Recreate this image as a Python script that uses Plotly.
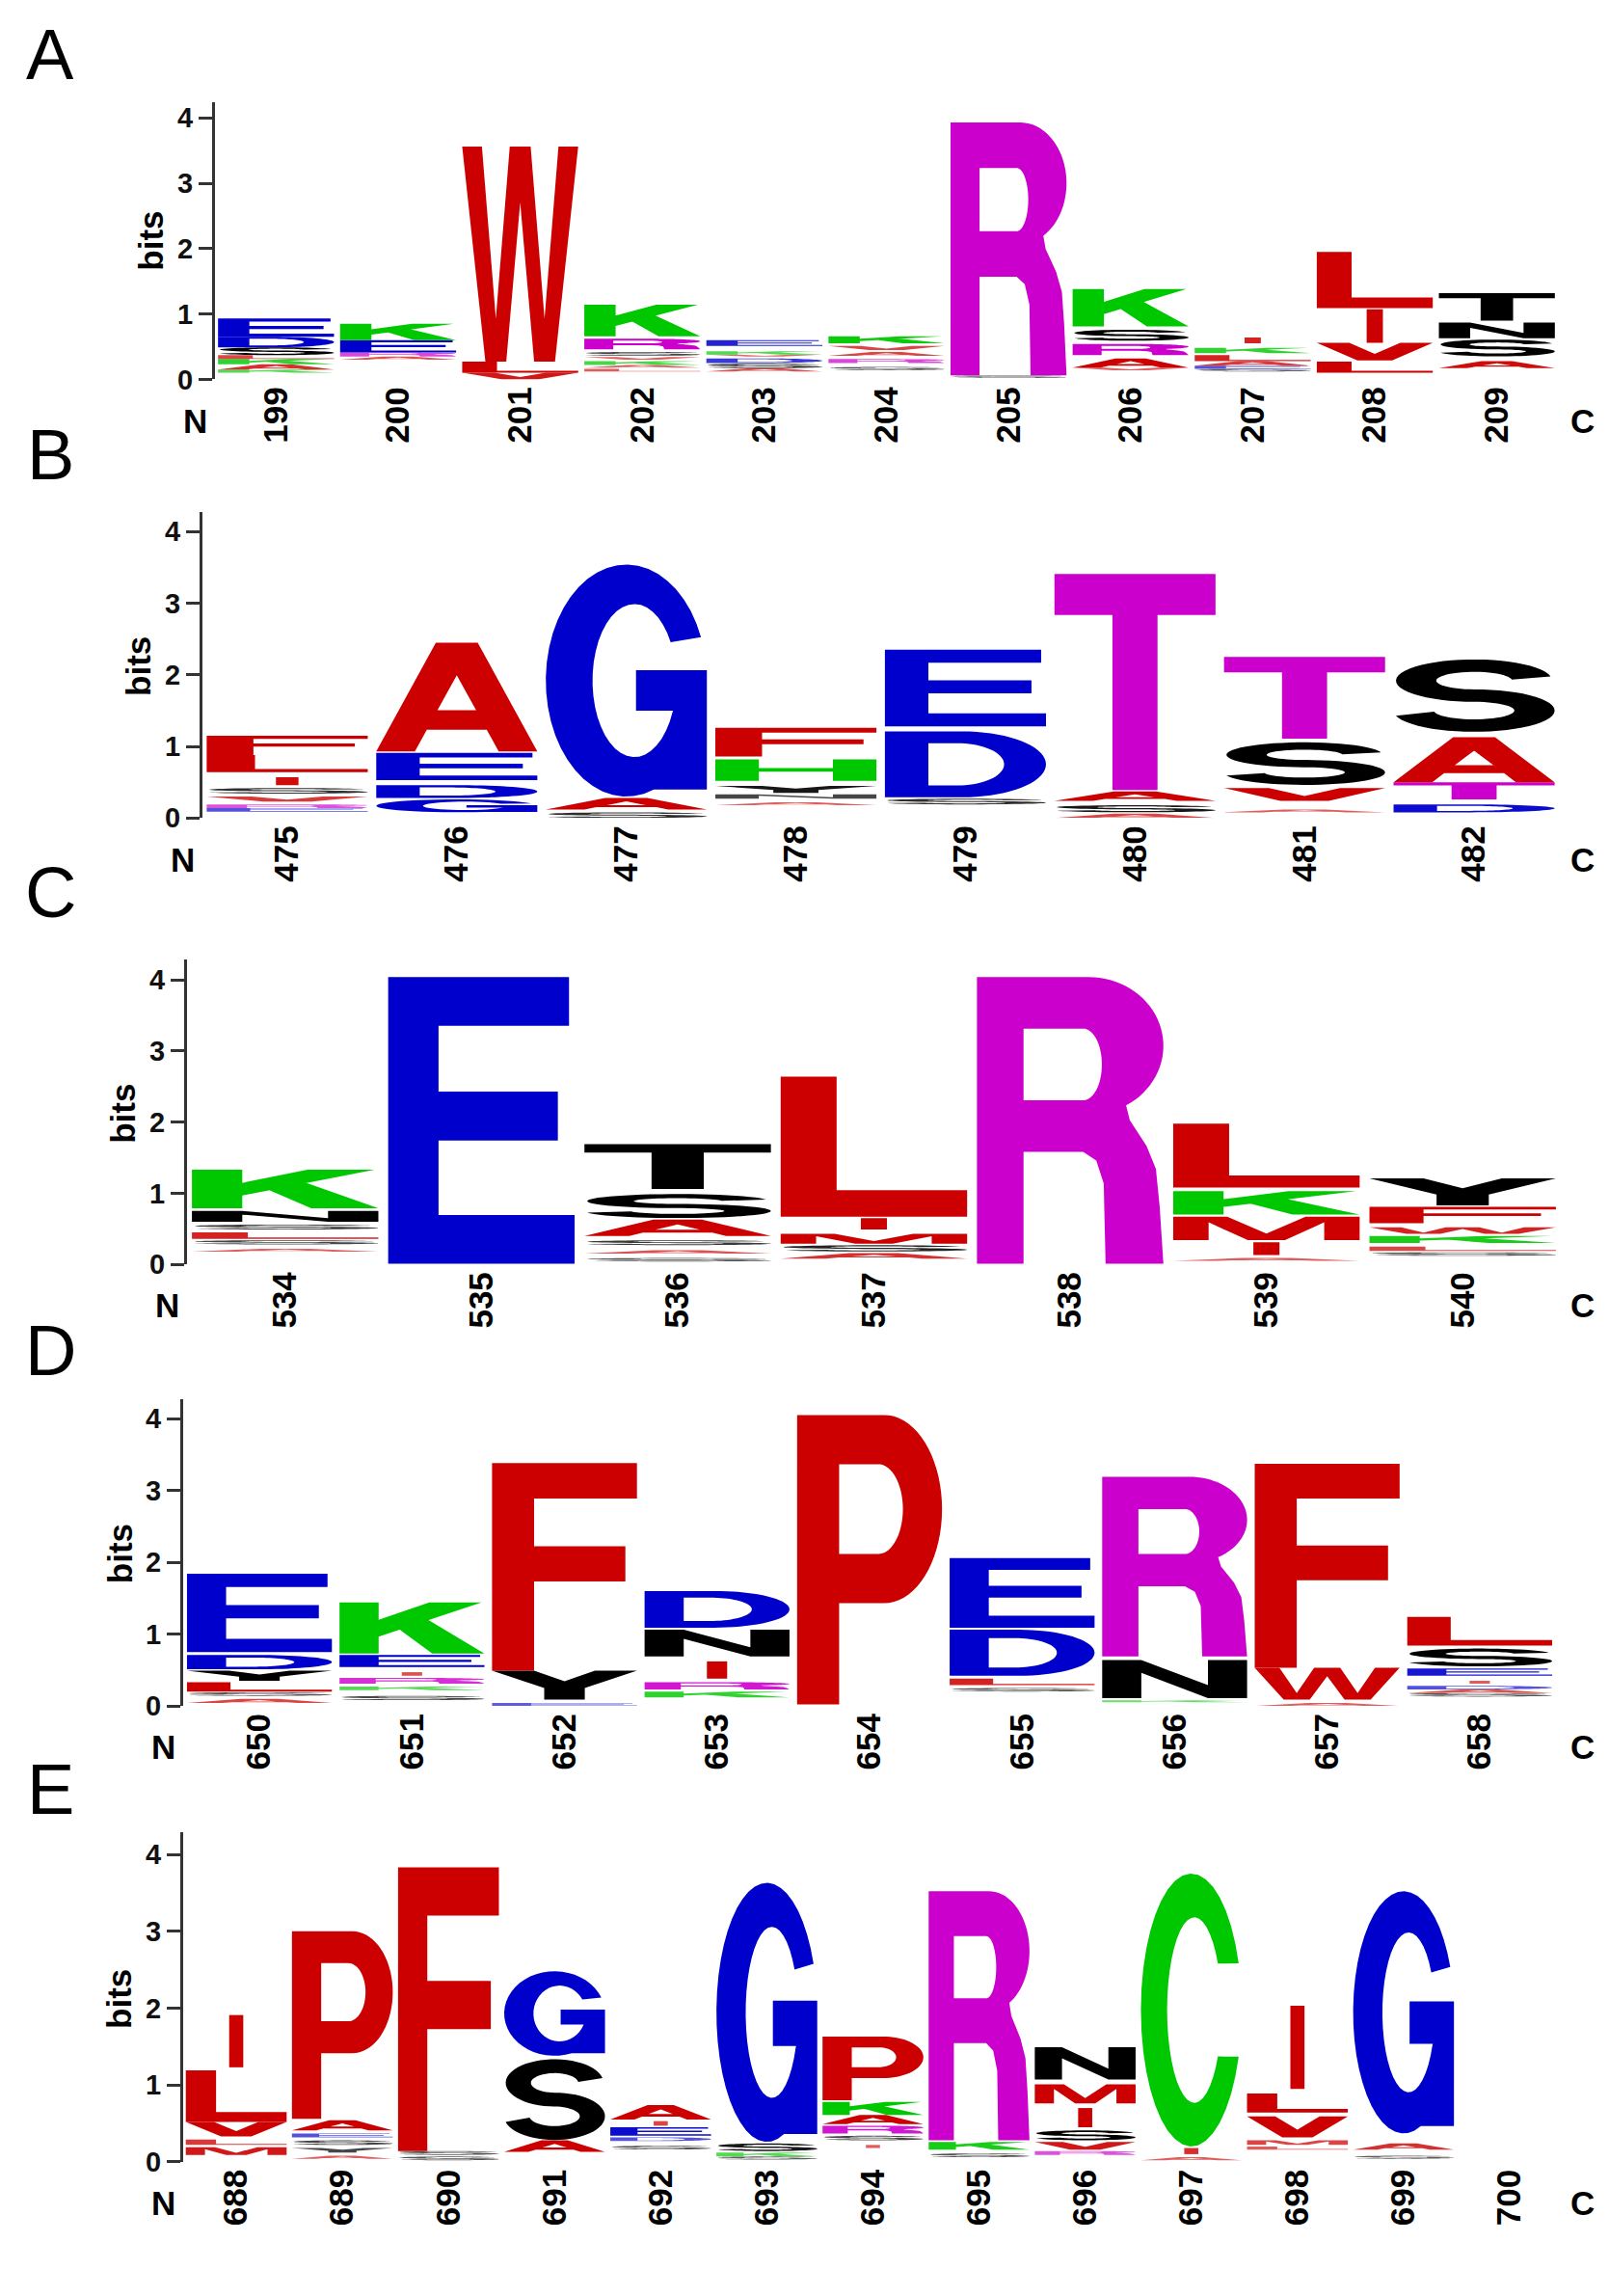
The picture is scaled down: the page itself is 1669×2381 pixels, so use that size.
import math
import plotly.graph_objects as go

W, H = 1669, 2381

# ------------------------------------------------------------------ data
# each stack: residues bottom -> top as (letter, height in bits); '-' = residues too small to be drawn
A_positions = list(range(199, 210))
A_stacks = [
    [('-', .10), ('K', .05), ('A', .08), ('K', .08), ('L', .06), ('S', .12), ('D', .16), ('E', .28)],
    [('-', .30), ('A', .05), ('R', .06), ('E', .19), ('K', .25)],
    [('V', .10), ('L', .17), ('W', 3.29)],
    [('-', .12), ('L', .04), ('-', .02), ('A', .04), ('K', .06), ('-', .02), ('V', .04), ('-', .02),
     ('S', .06), ('-', .04), ('R', .16), ('-', .04), ('K', .48)],
    [('-', .12), ('A', .05), ('S', .07), ('-', .01), ('D', .07), ('-', .03), ('V', .03), ('K', .05),
     ('-', .08), ('E', .09)],
    [('-', .14), ('S', .05), ('-', .06), ('R', .06), ('-', .05), ('A', .06), ('-', .03), ('V', .06),
     ('-', .04), ('K', .11)],
    [('-', .02), ('S', .04), ('R', 3.87)],
    [('-', .14), ('V', .04), ('A', .14), ('-', .05), ('R', .17), ('-', .05), ('S', .17), ('-', .05), ('K', .57)],
    [('-', .12), ('S', .04), ('E', .05), ('A', .07), ('L', .09), ('-', .03), ('K', .08), ('-', .07), ('I', .09)],
    [('-', .10), ('L', .17), ('-', .02), ('V', .27), ('I', .51), ('-', .02), ('L', .86)],
    [('-', .17), ('A', .11), ('-', .07), ('S', .26), ('-', .02), ('N', .24), ('-', .03), ('T', .42)],
]

B_positions = list(range(475, 483))
B_stacks = [
    [('-', .09), ('E', .05), ('R', .05), ('-', .04), ('V', .07), ('-', .04), ('S', .08), ('-', .04),
     ('I', .11), ('-', .07), ('L', .24), ('F', .27)],
    [('-', .08), ('G', .18), ('-', .02), ('D', .18), ('-', .07), ('E', .38), ('-', .02), ('A', 1.52)],
    [('S', .08), ('-', .04), ('A', .16), ('-', .02), ('G', 3.24)],
    [('-', .18), ('A', .04), ('-', .05), ('N', .06), ('-', .02), ('Y', .10), ('-', .07), ('H', .30),
     ('-', .04), ('F', .40)],
    [('-', .19), ('S', .08), ('-', .02), ('D', .92), ('-', .07), ('E', 1.07)],
    [('A', .06), ('-', .02), ('S', .10), ('-', .06), ('A', .13), ('-', .02), ('T', 3.02)],
    [('-', .08), ('A', .04), ('-', .12), ('V', .18), ('-', .04), ('S', .60), ('-', .05), ('T', 1.14)],
    [('-', .08), ('D', .11), ('-', .07), ('T', .24), ('A', .63), ('-', .07), ('S', 1.02)],
]

C_positions = list(range(534, 541))
C_stacks = [
    [('-', .18), ('A', .04), ('-', .06), ('S', .06), ('-', .02), ('L', .09), ('-', .04), ('S', .07),
     ('-', .04), ('N', .15), ('-', .04), ('K', .54)],
    [('-', .01), ('E', 4.03)],
    [('-', .04), ('S', .05), ('-', .06), ('A', .05), ('-', .07), ('S', .07), ('-', .06), ('A', .23),
     ('-', .02), ('S', .34), ('-', .07), ('T', .63)],
    [('-', .08), ('A', .08), ('-', .02), ('S', .09), ('-', .02), ('M', .14), ('-', .06), ('I', .16),
     ('-', .02), ('L', 1.97)],
    [('-', .01), ('R', 4.03)],
    [('-', .05), ('A', .04), ('-', .04), ('I', .18), ('-', .03), ('M', .33), ('-', .03), ('K', .33),
     ('-', .05), ('L', .90)],
    [('-', .12), ('S', .05), ('-', .02), ('L', .06), ('-', .05), ('K', .10), ('-', .03), ('W', .09),
     ('-', .06), ('F', .23), ('-', .02), ('Y', .38)],
]

D_positions = list(range(650, 659))
D_stacks = [
    [('-', .04), ('A', .06), ('-', .04), ('S', .05), ('-', .01), ('L', .13), ('-', .02), ('Y', .14),
     ('-', .02), ('D', .20), ('-', .04), ('E', 1.09)],
    [('-', .08), ('S', .06), ('-', .08), ('K', .05), ('-', .04), ('R', .08), ('-', .03), ('I', .05),
     ('-', .07), ('E', .17), ('-', .02), ('K', .71)],
    [('E', .04), ('-', .05), ('Y', .40), ('F', 2.89)],
    [('-', .12), ('K', .08), ('-', .03), ('R', .10), ('-', .05), ('I', .24), ('-', .07), ('N', .37),
     ('-', .03), ('D', .51)],
    [('-', .02), ('P', 4.03)],
    [('-', .20), ('S', .05), ('-', .04), ('L', .09), ('-', .04), ('D', .64), ('-', .03), ('E', .97)],
    [('-', .05), ('K', .03), ('-', .03), ('N', .53), ('-', .05), ('R', 2.50)],
    [('A', .04), ('-', .05), ('W', .44), ('F', 2.84)],
    [('-', .13), ('S', .05), ('A', .05), ('D', .05), ('-', .03), ('I', .04), ('-', .07), ('E', .10),
     ('-', .03), ('S', .25), ('-', .04), ('L', .40)],
]

E_positions = list(range(688, 701))
E_stacks = [
    [('-', .09), ('M', .10), ('-', .03), ('L', .07), ('-', .04), ('V', .19), ('L', .67), ('-', .04), ('I', .68)],
    [('-', .04), ('A', .04), ('-', .04), ('Y', .06), ('-', .04), ('S', .06), ('-', .04), ('E', .05),
     ('-', .04), ('A', .13), ('-', .02), ('P', 2.44)],
    [('-', .02), ('S', .05), ('-', .02), ('S', .05), ('F', 3.69)],
    [('-', .13), ('A', .15), ('S', 1.06), ('-', .04), ('G', 1.10)],
    [('-', .16), ('S', .05), ('-', .06), ('D', .05), ('-', .02), ('E', .11), ('-', .02), ('I', .06),
     ('-', .02), ('A', .19)],
    [('-', .03), ('S', .04), ('K', .05), ('-', .02), ('S', .10), ('-', .02), ('G', 3.37)],
    [('-', .18), ('I', .04), ('-', .06), ('S', .06), ('-', .03), ('R', .10), ('-', .02), ('A', .12),
     ('K', .17), ('-', .02), ('P', .83)],
    [('-', .06), ('S', .05), ('-', .05), ('K', .10), ('-', .02), ('R', 3.24)],
    [('-', .09), ('R', .05), ('-', .02), ('V', .10), ('-', .02), ('S', .13), ('-', .04), ('I', .25),
     ('-', .06), ('M', .25), ('-', .06), ('N', .42)],
    [('-', .02), ('A', .04), ('-', .04), ('I', .08), ('-', .02), ('C', 3.55)],
    [('-', .16), ('L', .04), ('-', .02), ('M', .06), ('-', .04), ('V', .27), ('-', .05), ('L', .25),
     ('-', .06), ('I', 1.08)],
    [('-', .04), ('S', .04), ('-', .08), ('A', .08), ('-', .13), ('G', 3.15)],
    [],
]

PANEL_LABELS = ['A', 'B', 'C', 'D', 'E']
PANEL_POSITIONS = [A_positions, B_positions, C_positions, D_positions, E_positions]
PANEL_STACKS = [A_stacks, B_stacks, C_stacks, D_stacks, E_stacks]
Y_TICKS = [0, 1, 2, 3, 4]

# ------------------------------------------------------------------ styles
RED, BLUE, GREEN, MAGENTA, BLACK = '#CC0000', '#0000CC', '#00C800', '#CC00CC', '#000000'
COLORS = {}
for c in 'AFILMPVW':
    COLORS[c] = RED
for c in 'DEG':
    COLORS[c] = BLUE
for c in 'KCH':
    COLORS[c] = GREEN
for c in 'RT':
    COLORS[c] = MAGENTA
for c in 'SNYQ':
    COLORS[c] = BLACK
# columns whose Thr is drawn black in the original figure
BLACK_T_COLUMNS = {('A', 209), ('C', 536)}

# axis_x, right_x, y0_px, px_per_bit, top_px, panel-letter centre y  (pixels)
GEOM = [
    (215, 1608, 388, 68.25, 99, 49),
    (202, 1609, 846, 74.75, 527, 467),
    (186, 1611, 1312, 74.25, 994, 924),
    (182, 1606, 1773, 75.0, 1453, 1402),
    (182, 1613, 2249, 80.25, 1905, 1860),
]


# ------------------------------------------------------------------ glyph outlines (unit box)
def rect(x0, y0, x1, y1):
    return [(x0, y0), (x1, y0), (x1, y1), (x0, y1)]


def ell(cx, cy, rx, ry, a0, a1, n=36):
    pts = []
    for i in range(n + 1):
        t = math.radians(a0 + (a1 - a0) * i / n)
        pts.append((cx + rx * math.cos(t), cy + ry * math.sin(t)))
    return pts


def stroke(center, t=0.17, k=0.68):
    P = [(x * k, y) for x, y in center]
    n = len(P)
    left, right = [], []
    for i in range(n):
        x0, y0 = P[max(i - 1, 0)]
        x1, y1 = P[min(i + 1, n - 1)]
        dx, dy = x1 - x0, y1 - y0
        L = math.hypot(dx, dy) or 1.0
        nx, ny = -dy / L, dx / L
        left.append(((P[i][0] + nx * t / 2) / k, P[i][1] + ny * t / 2))
        right.append(((P[i][0] - nx * t / 2) / k, P[i][1] - ny * t / 2))
    return left + right[::-1]


def glyph(ch):
    f = lambda p: (p, False)
    h = lambda p: (p, True)
    if ch == 'A':
        return [f([(0, 0), (0.37, 1), (0.63, 1), (1, 0), (0.76, 0), (0.686, 0.20), (0.314, 0.20), (0.24, 0)]),
                h([(0.38, 0.38), (0.62, 0.38), (0.5, 0.70)])]
    if ch == 'C':
        return [f(ell(0.5, 0.5, 0.5, 0.5, 20, 340) + ell(0.53, 0.5, 0.27, 0.34, 330, 30))]
    if ch == 'G':
        pts = ell(0.5, 0.5, 0.5, 0.5, 22, 290)
        pts += [(1.0, 0.03), (1.0, 0.545), (0.56, 0.545), (0.56, 0.37), (0.79, 0.37)]
        pts += ell(0.55, 0.5, 0.26, 0.33, 336, 30)
        return [f(pts)]
    if ch == 'D':
        return [f([(0, 0), (0, 1), (0.48, 1)] + ell(0.48, 0.5, 0.52, 0.5, 90, -90)),
                h([(0.27, 0.18), (0.45, 0.18)] + ell(0.45, 0.5, 0.29, 0.32, -90, 90) + [(0.27, 0.82)])]
    if ch == 'E':
        return [f(rect(0, 0, 0.27, 1)), f(rect(0, 0.83, 0.97, 1)), f(rect(0, 0.43, 0.91, 0.60)),
                f(rect(0, 0, 1, 0.17))]
    if ch == 'F':
        return [f(rect(0, 0, 0.29, 1)), f(rect(0, 0.83, 1, 1)), f(rect(0, 0.43, 0.92, 0.60))]
    if ch == 'H':
        return [f(rect(0, 0, 0.27, 1)), f(rect(0.73, 0, 1, 1)), f(rect(0, 0.42, 1, 0.59))]
    if ch == 'I':
        return [f(rect(0.43, 0, 0.57, 1))]
    if ch == 'K':
        return [f(rect(0, 0, 0.27, 1)),
                f([(0.27, 0.33), (0.98, 1.0), (0.62, 1.0), (0.27, 0.66)]),
                f([(0.40, 0.50), (0.64, 0.0), (1.0, 0.0), (0.60, 0.68)])]
    if ch == 'L':
        return [f(rect(0, 0, 0.30, 1)), f(rect(0, 0, 1, 0.19))]
    if ch == 'M':
        return [f([(0, 0), (0, 1), (0.29, 1), (0.5, 0.28), (0.71, 1), (1, 1), (1, 0), (0.81, 0),
                   (0.81, 0.76), (0.6, 0), (0.4, 0), (0.19, 0.76), (0.19, 0)])]
    if ch == 'N':
        return [f([(0, 0), (0, 1), (0.27, 1), (0.73, 0.34), (0.73, 1), (1, 1), (1, 0), (0.73, 0),
                   (0.27, 0.66), (0.27, 0)])]
    if ch == 'P':
        return [f([(0, 0), (0, 1), (0.6, 1)] + ell(0.6, 0.675, 0.4, 0.325, 90, -90) + [(0.29, 0.35), (0.29, 0)]),
                h([(0.29, 0.52), (0.56, 0.52)] + ell(0.56, 0.675, 0.17, 0.155, -90, 90) + [(0.29, 0.83)])]
    if ch == 'R':
        outer = [(0, 0), (0, 1), (0.6, 1)] + ell(0.6, 0.76, 0.4, 0.24, 90, -60)
        outer += [(0.82, 0.50), (0.91, 0.41), (0.96, 0.33), (0.98, 0.2), (1.0, 0.0), (0.69, 0.0),
                  (0.68, 0.28), (0.64, 0.36), (0.57, 0.39), (0.25, 0.39), (0.25, 0)]
        hole = [(0.25, 0.57), (0.57, 0.57)] + ell(0.57, 0.695, 0.1, 0.125, -90, 90) + [(0.25, 0.82)]
        return [f(outer), h(hole)]
    if ch == 'S':
        center = ell(0.5, 0.705, 0.36, 0.205, 10, 270, 40) + ell(0.5, 0.295, 0.375, 0.205, 90, -168, 40)[1:]
        return [f(stroke(center))]
    if ch == 'T':
        return [f(rect(0, 0.81, 1, 1)), f(rect(0.36, 0, 0.64, 0.81))]
    if ch == 'V':
        return [f([(0, 1), (0.28, 1), (0.5, 0.37), (0.72, 1), (1, 1), (0.65, 0), (0.35, 0)])]
    if ch == 'W':
        return [f([(0, 1), (0.17, 1), (0.29, 0.2), (0.41, 1), (0.59, 1), (0.71, 0.2), (0.83, 1), (1, 1),
                   (0.80, 0), (0.62, 0), (0.5, 0.74), (0.38, 0), (0.20, 0)])]
    if ch == 'Y':
        return [f([(0, 1), (0.29, 1), (0.5, 0.63), (0.71, 1), (1, 1), (0.64, 0.40), (0.64, 0),
                   (0.36, 0), (0.36, 0.40)])]
    return []


def area(p):
    s = 0.0
    for i in range(len(p)):
        x0, y0 = p[i]
        x1, y1 = p[(i + 1) % len(p)]
        s += x0 * y1 - x1 * y0
    return s / 2


def letter_path(ch, xc, y0, width, height):
    parts = []
    for poly, hole in glyph(ch):
        a = area(poly)
        if (a < 0 and not hole) or (a > 0 and hole):
            poly = poly[::-1]
        pts = [(xc - width / 2 + u * width, y0 + v * height) for u, v in poly]
        parts.append('M' + ' L'.join('%.5f,%.5f' % p for p in pts) + ' Z')
    return ' '.join(parts)


# ------------------------------------------------------------------ figure
fig = go.Figure()
shapes = []
annotations = []
LETTER_W = 0.95
TICK_FONT = dict(family='Liberation Sans Narrow, Arial Narrow, Liberation Sans, Arial, sans-serif',
                 size=29, color='#111111', weight='bold')
COL_FONT = dict(family='Liberation Sans, Arial, Helvetica, sans-serif', size=35, color='#000000',
                weight='bold')
LABEL_FONT = dict(family='Liberation Sans, Arial, Helvetica, sans-serif', size=35, color='#000000',
                  weight='bold')

for k, (lab, positions, stacks, geom) in enumerate(zip(PANEL_LABELS, PANEL_POSITIONS, PANEL_STACKS, GEOM)):
    ax_x, right_x, y0px, ppb, top_px, lab_y = geom
    n = '' if k == 0 else str(k + 1)
    xa, ya = 'xaxis' + n, 'yaxis' + n
    xr, yr = 'x' + n, 'y' + n
    ymax = (y0px - top_px) / ppb
    xpos = list(range(len(positions)))

    totals = [sum(hh for _, hh in st) for st in stacks]
    fig.add_trace(go.Scatter(x=xpos, y=totals, mode='markers', marker=dict(opacity=0),
                             hoverinfo='skip', showlegend=False, xaxis=xr, yaxis=yr))

    fig.layout[xa] = dict(domain=[ax_x / W, right_x / W], range=[-0.5, len(positions) - 0.5],
                          tickmode='array', tickvals=xpos, ticktext=[str(p) for p in positions],
                          tickangle=-90, ticks='', showline=False, showgrid=False, zeroline=False,
                          tickfont=COL_FONT, anchor=yr, fixedrange=True)
    fig.layout[ya] = dict(domain=[1 - y0px / H, 1 - top_px / H], range=[0, ymax],
                          tickmode='array', tickvals=Y_TICKS, ticktext=[str(t) for t in Y_TICKS],
                          ticks='outside', ticklen=14, tickwidth=2.5, tickcolor='#333333',
                          showline=True, linewidth=3, linecolor='#333333', showgrid=False,
                          zeroline=False, tickfont=TICK_FONT, anchor=xr, fixedrange=True)

    for i, st in enumerate(stacks):
        base = 0.0
        for ch, hgt in st:
            if ch != '-' and ch in COLORS:
                col = COLORS[ch]
                if ch == 'T' and (lab, positions[i]) in BLACK_T_COLUMNS:
                    col = BLACK
                op = 1.0 if hgt >= 0.12 else 0.45 + 0.55 * hgt / 0.12
                shapes.append(dict(type='path', xref=xr, yref=yr,
                                   path=letter_path(ch, xpos[i], base, LETTER_W, hgt),
                                   fillcolor=col, opacity=op, line=dict(width=0),
                                   fillrule='nonzero', layer='above'))
            base += hgt

    annotations.append(dict(text=lab, x=44 / W, y=1 - lab_y / H, xref='paper', yref='paper',
                            showarrow=False, xanchor='center', yanchor='middle',
                            font=dict(family='Liberation Sans, Arial, sans-serif', size=74, color='#000000')))
    annotations.append(dict(text='bits', x=(ax_x - 66) / W, y=1 - (y0px - 2.12 * ppb) / H,
                            xref='paper', yref='paper', showarrow=False, textangle=-90,
                            xanchor='center', yanchor='middle', font=LABEL_FONT))
    annotations.append(dict(text='N', x=(ax_x - 21) / W, y=1 - (y0px + 43) / H, xref='paper', yref='paper',
                            showarrow=False, xanchor='center', yanchor='middle', font=LABEL_FONT))
    annotations.append(dict(text='C', x=1633 / W, y=1 - (y0px + 43) / H, xref='paper', yref='paper',
                            showarrow=False, xanchor='center', yanchor='middle', font=LABEL_FONT))

fig.update_layout(width=W, height=H, margin=dict(l=0, r=0, t=0, b=0),
                  paper_bgcolor='white', plot_bgcolor='white',
                  shapes=shapes, annotations=annotations, showlegend=False)

fig.write_html('out.html', config={'displayModeBar': False})
